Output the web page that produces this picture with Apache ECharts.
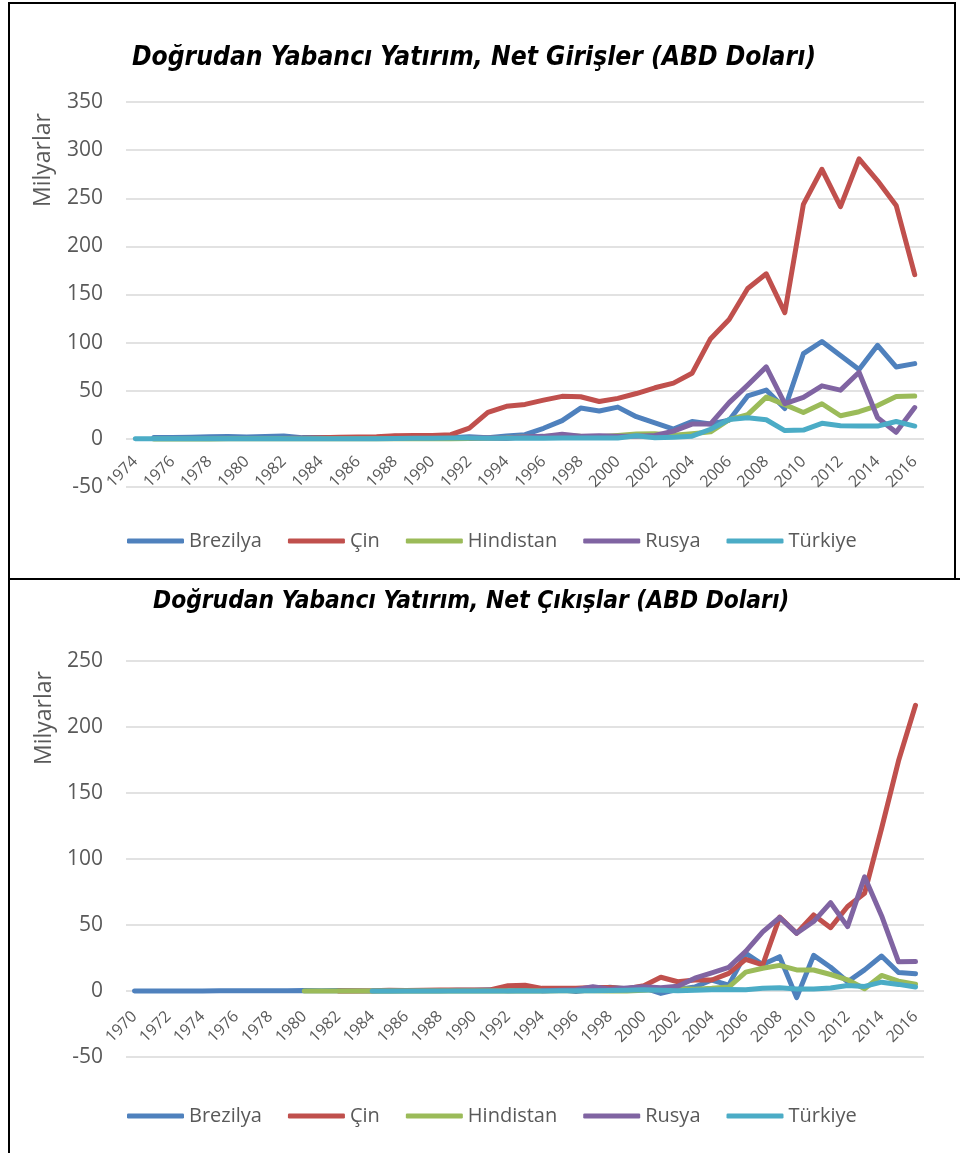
<!DOCTYPE html>
<html>
<head>
<meta charset="utf-8">
<script src="https://cdn.jsdelivr.net/npm/echarts@6/dist/echarts.min.js"></script>
<style>
  html, body { margin: 0; padding: 0; background: #fff; }
  #chart { width: 960px; height: 1153px; }
</style>
</head>
<body>
<div id="chart"></div>
<script>
// Net girişler (inflows), 1974-2016, milyar ABD doları
const inYears = []
for (let y = 1974; y <= 2016; y++) inYears.push(String(y))

const inBrezilya = [null, 1.3, 1.5, 1.8, 2.2, 2.4, 1.9, 2.5, 3.1, 1.3, 1.5, 1.4, 0.3, 1.2, 2.8, 1.1, 1.0, 1.1, 2.1, 1.3,
  3.1, 4.4, 11, 19, 32, 29, 33, 23, 16.6, 10.1, 18.1, 15.5, 19.4, 44.6, 50.7, 31.5, 88.5, 101.2, 86.6, 72, 97.2, 74.7, 78.2]
const inCin = [null, null, null, null, null, null, null, null, 0.43, 0.64, 1.26, 1.66, 1.88, 2.31, 3.19, 3.39, 3.49, 4.37, 11.2, 27.5,
  33.8, 35.8, 40.2, 44.2, 43.8, 38.8, 42.1, 47.1, 53.1, 57.9, 68.1, 104.1, 124.1, 156.2, 171.5, 131.1, 243.7, 280.1, 241.2, 290.9, 268.1, 242.5, 170.6]
const inHindistan = [null, 0, 0, 0, 0, 0.05, 0.08, 0.09, 0.07, 0, 0.02, 0.1, 0.12, 0.21, 0.09, 0.25, 0.24, 0.07, 0.28, 0.55,
  0.97, 2.14, 2.43, 3.58, 2.63, 2.17, 3.58, 5.13, 5.21, 3.68, 5.43, 7.27, 20.0, 25.2, 43.4, 35.6, 27.4, 36.5, 24.0, 28.2, 34.6, 44.0, 44.5]
const inRusya = [null, null, null, null, null, null, null, null, null, null, null, null, null, null, null, null, null, null, 1.2, 1.2,
  0.7, 2.1, 2.6, 4.9, 2.8, 3.3, 2.7, 2.7, 3.5, 8.0, 15.4, 15.5, 37.6, 55.9, 74.8, 36.6, 43.2, 55.1, 50.6, 69.2, 22.0, 6.9, 32.5]
const inTurkiye = [0.06, 0.11, 0.01, 0.03, 0.03, 0.08, 0.02, 0.1, 0.06, 0.05, 0.11, 0.1, 0.13, 0.11, 0.35, 0.66, 0.68, 0.81, 0.84, 0.64,
  0.61, 0.89, 0.72, 0.81, 0.94, 0.78, 0.98, 3.35, 1.08, 1.75, 2.79, 10.0, 20.2, 22.0, 19.9, 8.6, 9.1, 16.2, 13.7, 13.5, 13.3, 18.0, 13.3]

// Net çıkışlar (outflows), 1970-2016, milyar ABD doları
const outYears = []
for (let y = 1970; y <= 2016; y++) outYears.push(String(y))

const outBrezilya = [0.01, 0.03, 0.02, 0.03, 0.06, 0.1, 0.2, 0.15, 0.1, 0.2, 0.37, 0.2, 0.37, 0.19, 0.04, 0.08, 0.15, 0.14, 0.18, 0.52,
  0.63, 1.01, 0.14, 0.49, 0.69, 1.1, -0.47, 1.12, 2.85, 1.69, 2.28, -1.8, 1.2, 3, 8.3, 4.5, 28.5, 20, 26, -5, 27, 18, 7, 16, 26.5, 14, 13]
const outCin = [null, null, null, null, null, null, null, null, null, null, null, null, 0.04, 0.09, 0.13, 0.63, 0.45, 0.65, 0.85, 0.78,
  0.83, 0.91, 4.0, 4.4, 2.0, 2.0, 2.1, 2.6, 2.6, 1.8, 4.0, 10.4, 7, 8.3, 8.3, 13.4, 24, 19.7, 56, 43.7, 57.6, 48, 64, 74, 123.1, 174.4, 216.4]
const outHindistan = [null, null, null, null, null, null, null, null, null, null, 0, 0, 0, 0, 0, 0, 0, 0, 0, 0,
  0.01, 0, 0.02, 0.08, 0.08, 0.12, 0.24, 0.11, 0.05, 0.08, 0.51, 1.4, 1.68, 1.33, 2.0, 2.98, 14.3, 17.2, 19.4, 16.0, 15.9, 12.5, 8.5, 1.7, 11.8, 7.5, 5.1]
const outRusya = [null, null, null, null, null, null, null, null, null, null, null, null, null, null, null, null, null, null, null, null,
  null, null, null, null, 0.28, 0.61, 0.92, 3.18, 1.27, 2.21, 3.18, 2.53, 3.53, 9.73, 13.8, 17.9, 30.0, 44.8, 55.7, 43.7, 52.6, 66.9, 48.8, 86.5, 57.1, 22.1, 22.3]
const outTurkiye = [null, null, null, null, null, null, null, null, null, null, null, null, null, null, 0, 0, 0, 0, 0.05, 0.03,
  0.02, 0.03, 0.07, 0.01, 0.05, 0.11, 0.11, 0.25, 0.37, 0.65, 0.87, 0.5, 0.18, 0.5, 0.86, 1.08, 0.92, 2.1, 2.5, 1.6, 1.5, 2.3, 4.1, 3.5, 6.7, 5.0, 3.0]

const countries = ['Brezilya', 'Çin', 'Hindistan', 'Rusya', 'Türkiye']
const colors = ['#4F81BD', '#C0504D', '#9BBB59', '#8064A2', '#4BACC6']
const inSeries = [inBrezilya, inCin, inHindistan, inRusya, inTurkiye]
const outSeries = [outBrezilya, outCin, outHindistan, outRusya, outTurkiye]

const font = '"Open Sans", sans-serif'
const titleFont = '"Liberation Sans Narrow", "DejaVu Sans Condensed", sans-serif'
const grey = '#595959'

// labels sit just under the zero line, so pull them up from the grid bottom
const xAxisBase = (idx, data, margin) => ({
  type: 'category',
  gridIndex: idx,
  data: data,
  boundaryGap: true,
  axisLine: { show: false, onZero: false },
  axisTick: { show: false },
  axisLabel: { interval: 1, rotate: 45, color: grey, fontSize: 16, fontFamily: font, margin: margin }
})

const yAxisBase = (idx, max) => ({
  type: 'value',
  gridIndex: idx,
  min: -50,
  max: max,
  interval: 50,
  axisLine: { show: false },
  axisTick: { show: false },
  splitLine: { lineStyle: { color: '#D9D9D9', width: 1.5 } },
  axisLabel: { color: grey, fontSize: 21, fontFamily: font, margin: 23 }
})

const makeSeries = (list, idx) => list.map((d, i) => ({
  name: countries[i],
  type: 'line',
  xAxisIndex: idx,
  yAxisIndex: idx,
  data: d,
  symbol: 'none',
  connectNulls: false,
  color: colors[i],
  lineStyle: { width: 5, cap: 'round', join: 'round' }
}))

const legendBase = (top) => ({
  top: top,
  left: 127,
  padding: 0,
  icon: 'roundRect',
  itemWidth: 57,
  itemHeight: 5,
  itemGap: 26,
  data: countries,
  textStyle: { color: grey, fontSize: 20, fontFamily: font }
})

const chart = echarts.init(document.getElementById('chart'))

chart.setOption({
  animation: false,
  backgroundColor: '#fff',
  title: [
    {
      text: 'Doğrudan Yabancı Yatırım, Net Girişler (ABD Doları)',
      left: 127, top: 40,
      textStyle: { fontFamily: titleFont, fontStyle: 'italic', fontWeight: 'bold', fontSize: 26.2, color: '#000' }
    },
    {
      text: 'Doğrudan Yabancı Yatırım, Net Çıkışlar (ABD Doları)',
      left: 148, top: 585,
      textStyle: { fontFamily: titleFont, fontStyle: 'italic', fontWeight: 'bold', fontSize: 24.3, color: '#000' }
    }
  ],
  legend: [legendBase(531), legendBase(1106)],
  grid: [
    { left: 126, right: 36, top: 102, height: 385 },
    { left: 126, right: 36, top: 661, height: 396 }
  ],
  xAxis: [xAxisBase(0, inYears, -28), xAxisBase(1, outYears, -43)],
  yAxis: [yAxisBase(0, 350), yAxisBase(1, 250)],
  series: [...makeSeries(inSeries, 0), ...makeSeries(outSeries, 1)],
  graphic: [
    { type: 'text', x: 43, y: 160, rotation: Math.PI / 2,
      style: { text: 'Milyarlar', fill: grey, font: '23px "Open Sans", sans-serif', align: 'center', verticalAlign: 'middle' } },
    { type: 'text', x: 44, y: 718, rotation: Math.PI / 2,
      style: { text: 'Milyarlar', fill: grey, font: '23px "Open Sans", sans-serif', align: 'center', verticalAlign: 'middle' } },
    { type: 'rect', shape: { x: 9, y: 3, width: 946, height: 576 }, style: { fill: 'none', stroke: '#000', lineWidth: 2 } },
    { type: 'line', shape: { x1: 9, y1: 579, x2: 960, y2: 579 }, style: { stroke: '#000', lineWidth: 2 } },
    { type: 'line', shape: { x1: 9, y1: 579, x2: 9, y2: 1153 }, style: { stroke: '#000', lineWidth: 2 } }
  ]
})
</script>
</body>
</html>
